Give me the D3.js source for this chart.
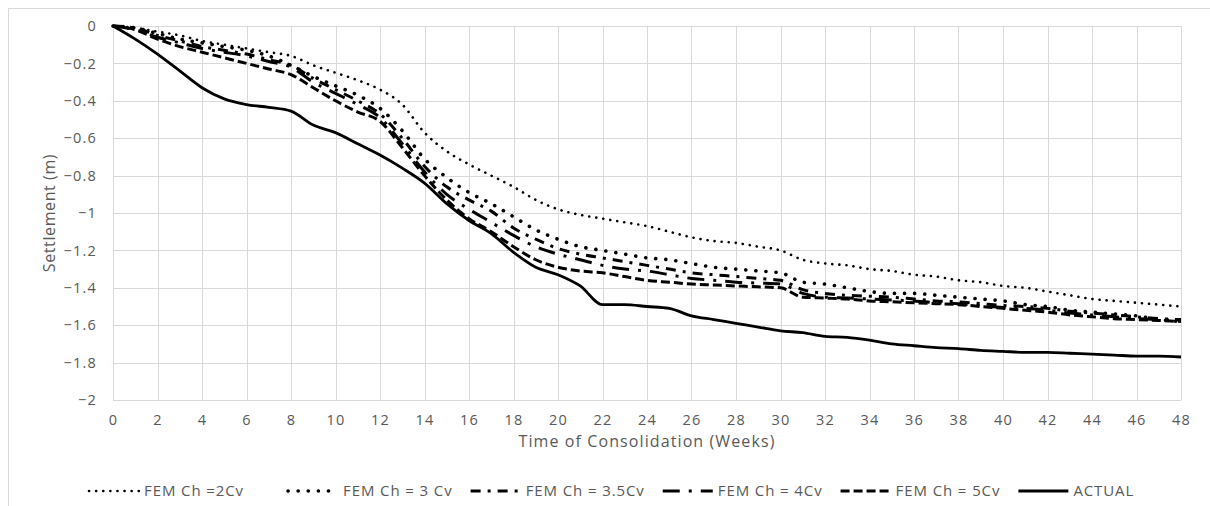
<!DOCTYPE html>
<html>
<head>
<meta charset="utf-8">
<script src="https://cdn.jsdelivr.net/npm/d3@7"></script>
<style>
  html, body { margin: 0; padding: 0; background: #fff; }
  svg { display: block; font-family: "Open Sans", sans-serif; }
</style>
</head>
<body>
<svg id="chart" width="1210" height="506"></svg>
<script>
// Time axis (weeks)
const weeks = [0,1,2,3,4,5,6,7,8,9,10,11,12,13,14,15,16,17,18,19,20,21,22,23,24,
  25,26,27,28,29,30,31,32,33,34,35,36,37,38,39,40,41,42,43,44,45,46,47,48];

// Settlement (m) per week for each case
const fem2Cv = [0,-0.01,-0.03,-0.05,-0.08,-0.10,-0.12,-0.14,-0.16,-0.21,-0.25,-0.29,-0.34,-0.42,-0.57,
  -0.67,-0.74,-0.80,-0.86,-0.93,-0.98,-1.01,-1.03,-1.05,-1.07,-1.10,-1.13,-1.15,-1.16,-1.18,-1.20,
  -1.25,-1.27,-1.28,-1.30,-1.31,-1.33,-1.34,-1.36,-1.37,-1.39,-1.40,-1.42,-1.44,-1.46,-1.47,-1.48,-1.49,-1.50];
const fem3Cv = [0,-0.01,-0.04,-0.07,-0.09,-0.11,-0.13,-0.16,-0.21,-0.27,-0.32,-0.37,-0.44,-0.56,-0.71,
  -0.81,-0.89,-0.95,-1.02,-1.09,-1.14,-1.18,-1.20,-1.22,-1.24,-1.25,-1.27,-1.29,-1.30,-1.31,-1.32,
  -1.37,-1.38,-1.40,-1.42,-1.43,-1.43,-1.44,-1.45,-1.46,-1.47,-1.49,-1.50,-1.52,-1.53,-1.54,-1.55,-1.57,-1.58];
const fem35Cv = [0,-0.01,-0.05,-0.08,-0.11,-0.13,-0.15,-0.18,-0.21,-0.28,-0.34,-0.40,-0.47,-0.60,-0.75,
  -0.86,-0.93,-0.99,-1.08,-1.14,-1.19,-1.22,-1.24,-1.26,-1.28,-1.30,-1.32,-1.33,-1.34,-1.35,-1.36,
  -1.41,-1.43,-1.44,-1.445,-1.45,-1.46,-1.47,-1.475,-1.485,-1.495,-1.50,-1.51,-1.525,-1.535,-1.545,-1.555,-1.565,-1.57];
const fem4Cv = [0,-0.02,-0.06,-0.09,-0.12,-0.14,-0.16,-0.19,-0.22,-0.30,-0.36,-0.42,-0.49,-0.63,-0.78,
  -0.90,-0.98,-1.05,-1.12,-1.18,-1.22,-1.25,-1.28,-1.30,-1.31,-1.33,-1.35,-1.36,-1.37,-1.375,-1.38,
  -1.43,-1.45,-1.455,-1.46,-1.465,-1.47,-1.48,-1.485,-1.495,-1.505,-1.51,-1.52,-1.535,-1.545,-1.555,-1.565,-1.57,-1.575];
const fem5Cv = [0,-0.02,-0.07,-0.11,-0.14,-0.17,-0.20,-0.23,-0.26,-0.33,-0.40,-0.46,-0.51,-0.65,-0.80,
  -0.93,-1.03,-1.10,-1.18,-1.25,-1.29,-1.31,-1.32,-1.34,-1.36,-1.37,-1.38,-1.385,-1.39,-1.395,-1.40,
  -1.45,-1.455,-1.46,-1.47,-1.475,-1.48,-1.485,-1.49,-1.50,-1.51,-1.52,-1.53,-1.545,-1.555,-1.565,-1.57,-1.575,-1.58];
const actual = [0,-0.07,-0.15,-0.24,-0.33,-0.39,-0.42,-0.435,-0.455,-0.53,-0.57,-0.63,-0.69,-0.76,-0.84,
  -0.95,-1.04,-1.11,-1.21,-1.29,-1.33,-1.39,-1.49,-1.49,-1.50,-1.51,-1.55,-1.57,-1.59,-1.61,-1.63,
  -1.64,-1.66,-1.665,-1.68,-1.70,-1.71,-1.72,-1.725,-1.735,-1.74,-1.745,-1.745,-1.75,-1.755,-1.76,-1.765,-1.765,-1.77];

const seriesNames = ["FEM Ch =2Cv", "FEM Ch = 3 Cv", "FEM Ch = 3.5Cv", "FEM Ch = 4Cv", "FEM Ch = 5Cv", "ACTUAL"];
const seriesValues = [fem2Cv, fem3Cv, fem35Cv, fem4Cv, fem5Cv, actual];

const xTicks = [0,2,4,6,8,10,12,14,16,18,20,22,24,26,28,30,32,34,36,38,40,42,44,46,48];
const yTicks = [0,-0.2,-0.4,-0.6,-0.8,-1,-1.2,-1.4,-1.6,-1.8,-2];

// Stroke style for each series: dots, dash-dot, long dash-dot, dashes, solid
const styles = [
  { width: 2.6, dash: "0.1 7", cap: "round" },
  { width: 3.6, dash: "0.1 10", cap: "round" },
  { width: 3, dash: "10 7 3 7", cap: "butt" },
  { width: 3, dash: "17 9 3 9", cap: "butt" },
  { width: 3, dash: "9 4", cap: "butt" },
  { width: 2.8, dash: null, cap: "butt" }
];

const svg = d3.select("#chart");
const W = 1210, H = 506;
const margin = { left: 113, top: 26, right: W - 1181, bottom: H - 400 };
const textColor = "#595959";
const gridColor = "#d9d9d9";

// Chart frame
svg.append("rect")
  .attr("x", 8.5).attr("y", 8.5)
  .attr("width", W + 20).attr("height", H + 20)
  .attr("fill", "none").attr("stroke", gridColor).attr("stroke-width", 1);

const x = d3.scaleLinear().domain([0, 48]).range([margin.left, W - margin.right]);
const y = d3.scaleLinear().domain([-2, 0]).range([H - margin.bottom, margin.top]);

// Gridlines
const grid = svg.append("g");
grid.selectAll("line.v").data(xTicks).join("line")
  .attr("x1", d => Math.round(x(d)) + 0.5).attr("x2", d => Math.round(x(d)) + 0.5)
  .attr("y1", y(0)).attr("y2", y(-2))
  .attr("stroke", gridColor).attr("stroke-width", 1);
grid.selectAll("line.h").data(yTicks).join("line")
  .attr("y1", d => Math.round(y(d)) + 0.5).attr("y2", d => Math.round(y(d)) + 0.5)
  .attr("x1", x(0)).attr("x2", x(48))
  .attr("stroke", gridColor).attr("stroke-width", 1);

// Axes (labels only; gridlines serve as axis lines)
const xAxis = svg.append("g")
  .attr("transform", `translate(0,${y(-2)})`)
  .call(d3.axisBottom(x).tickValues(xTicks).tickSize(0).tickPadding(0).tickFormat(d3.format("d")));
xAxis.select(".domain").remove();
xAxis.selectAll("text")
  .attr("y", 25).attr("dy", null)
  .attr("fill", textColor).style("font-size", "14.5px").style("letter-spacing", "1.2px")
  .style("font-family", "'Open Sans', sans-serif");

const yAxis = svg.append("g")
  .attr("transform", `translate(${x(0)},0)`)
  .call(d3.axisLeft(y).tickValues(yTicks).tickSize(0).tickPadding(16).tickFormat(d => d3.format("")(+d.toFixed(1))));
yAxis.select(".domain").remove();
yAxis.selectAll("text")
  .attr("fill", textColor).style("font-size", "14.5px").style("letter-spacing", "1.2px")
  .style("font-family", "'Open Sans', sans-serif");

// Axis titles
svg.append("text")
  .attr("x", 647).attr("y", 447)
  .attr("text-anchor", "middle")
  .attr("fill", textColor).style("font-size", "16px").style("letter-spacing", "1.1px")
  .text("Time of Consolidation (Weeks)");
svg.append("text")
  .attr("transform", `translate(55,${(y(0) + y(-2)) / 2}) rotate(-90)`)
  .attr("text-anchor", "middle")
  .attr("fill", textColor).style("font-size", "16px").style("letter-spacing", "0.6px")
  .text("Settlement (m)");

// Series lines
const line = d3.line()
  .x((d, i) => x(weeks[i]))
  .y(d => y(d))
  .curve(d3.curveMonotoneX);

svg.append("g").selectAll("path")
  .data(seriesValues)
  .join("path")
  .attr("d", d => line(d))
  .attr("fill", "none")
  .attr("stroke", "#000")
  .attr("stroke-width", (d, i) => styles[i].width)
  .attr("stroke-dasharray", (d, i) => styles[i].dash)
  .attr("stroke-linecap", (d, i) => styles[i].cap)
  .attr("stroke-linejoin", "round");

// Legend, laid out left to right
const legend = svg.append("g");
const symbolLen = 50, symbolGap = 5, itemGap = 18, legendY = 491;
let cursor = 89;
seriesNames.forEach((name, i) => {
  const s = styles[i];
  legend.append("line")
    .attr("x1", cursor).attr("x2", cursor + symbolLen)
    .attr("y1", legendY).attr("y2", legendY)
    .attr("stroke", "#000")
    .attr("stroke-width", s.width)
    .attr("stroke-dasharray", s.dash)
    .attr("stroke-linecap", s.cap);
  const t = legend.append("text")
    .attr("x", cursor + symbolLen + symbolGap).attr("y", legendY + 5)
    .attr("fill", textColor).style("font-size", "15px").style("letter-spacing", "0.9px")
    .text(name);
  cursor += symbolLen + symbolGap + t.node().getComputedTextLength() + itemGap + (i === 0 ? 26 : 0);
});
</script>
</body>
</html>
